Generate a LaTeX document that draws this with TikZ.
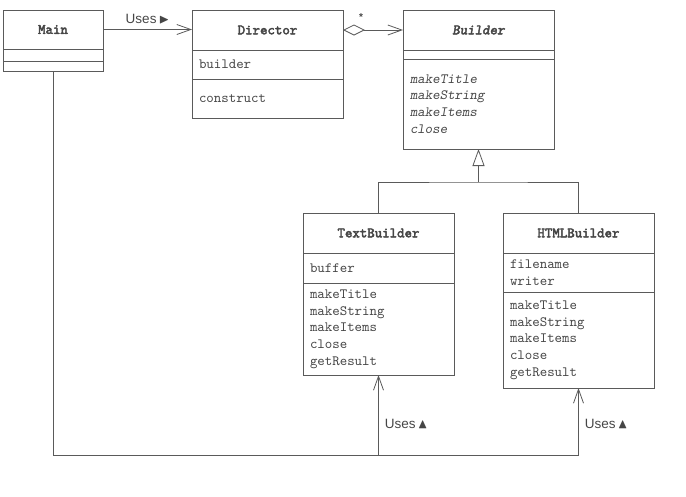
\documentclass[tikz,border=0pt]{standalone}
\usepackage{amssymb}
\usepackage{fontspec}
\setsansfont{Liberation Sans}
\setmonofont{lmmono10-regular.otf}[BoldFont=lmmono10-regular.otf,BoldFeatures={FakeBold=3},ItalicFont=lmmonoslant10-regular.otf,BoldItalicFont=lmmonoslant10-regular.otf,BoldItalicFeatures={FakeBold=3}]
\usetikzlibrary{arrows.meta,positioning}
\definecolor{Ink}{HTML}{464646}
\definecolor{Rule}{HTML}{5A5A5A}
\tikzset{
  clsname/.style={draw=Rule,line width=0.8pt,outer sep=0pt,minimum width=151pt,minimum height=40pt,inner sep=0pt,font=\fontsize{14.2}{16.7}\selectfont\ttfamily\bfseries,text=Ink},
  clspart/.style={draw=Rule,line width=0.8pt,outer sep=0pt,text width=137pt,inner xsep=7pt,inner ysep=2pt,align=left,font=\fontsize{14.2}{16.7}\selectfont\ttfamily,text=Ink},
  link/.style={draw=Rule,line width=0.8pt},
  uses/.style={-{Straight Barb[length=14pt,width=10pt]},draw=Rule,line width=0.8pt},
  gen/.style={-{Triangle[open,length=17pt,width=12pt,fill=white]},draw=Rule,line width=0.8pt},
  usesnote/.style={font=\fontsize{13.5}{16}\selectfont\sffamily,text=Ink,inner sep=2pt}
}

\begin{document}
\begin{tikzpicture}[x=1pt,y=-1pt]
  \useasboundingbox (0,0) rectangle (686,496);
  % classes
  \node[clsname,minimum width=100pt,minimum height=39pt,anchor=north west] (main) at (3,10) {Main};
  \node[clspart,text width=86pt,minimum height=12pt,below=0pt of main] (main-attr) {};
  \node[clspart,text width=86pt,minimum height=10pt,below=0pt of main-attr] (main-ops) {};

  \node[clsname,anchor=north west] (dir) at (192,10) {Director};
  \node[clspart,minimum height=29pt,below=0pt of dir] (dir-attr) {builder};
  \node[clspart,minimum height=39pt,below=0pt of dir-attr] (dir-ops) {construct};

  \node[clsname,anchor=north west] (bld) at (403,10) {\itshape Builder};
  \node[clspart,minimum height=9pt,below=0pt of bld] (bld-attr) {};
  \node[clspart,minimum height=90pt,below=0pt of bld-attr] (bld-ops) {\itshape makeTitle\\makeString\\makeItems\\close};

  \node[clsname,anchor=north west] (tb) at (303,213) {TextBuilder};
  \node[clspart,minimum height=30pt,below=0pt of tb] (tb-attr) {buffer};
  \node[clspart,minimum height=92pt,below=0pt of tb-attr] (tb-ops) {makeTitle\\makeString\\makeItems\\close\\getResult};

  \node[clsname,anchor=north west] (hb) at (503,213) {HTMLBuilder};
  \node[clspart,minimum height=39pt,below=0pt of hb] (hb-attr) {filename\\writer};
  \node[clspart,minimum height=96pt,below=0pt of hb-attr] (hb-ops) {makeTitle\\makeString\\makeItems\\close\\getResult};

  % associations
  \draw[uses] (main.east) -- node[usesnote,above=3pt] {Uses\,$\blacktriangleright$} (main.east -| dir.west);
  \draw[link,{Diamond[open,length=22pt,width=11pt]}-{Straight Barb[length=14pt,width=10pt]}] (dir) -- node[pos=0.3,above=7pt,usesnote,font=\bfseries\sffamily] {*} (bld);

  % generalization
  \coordinate (fork) at (bld-ops.south |- 0,182);
  \draw[link] (tb.north) |- (fork) -| (hb.north);
  \draw[gen] (fork) -- (bld-ops.south);

  % Main uses the concrete builders
  \coordinate (turn) at (main-ops.south |- 0,455);
  \draw[uses] (main-ops.south) |- (hb-ops.south |- turn) -- node[usesnote,right=4pt,pos=0.46] {Uses\,$\blacktriangle$} (hb-ops.south);
  \draw[uses] (tb-ops.south |- turn) -- node[usesnote,right=4pt,pos=0.39] {Uses\,$\blacktriangle$} (tb-ops.south);
\end{tikzpicture}
\end{document}
